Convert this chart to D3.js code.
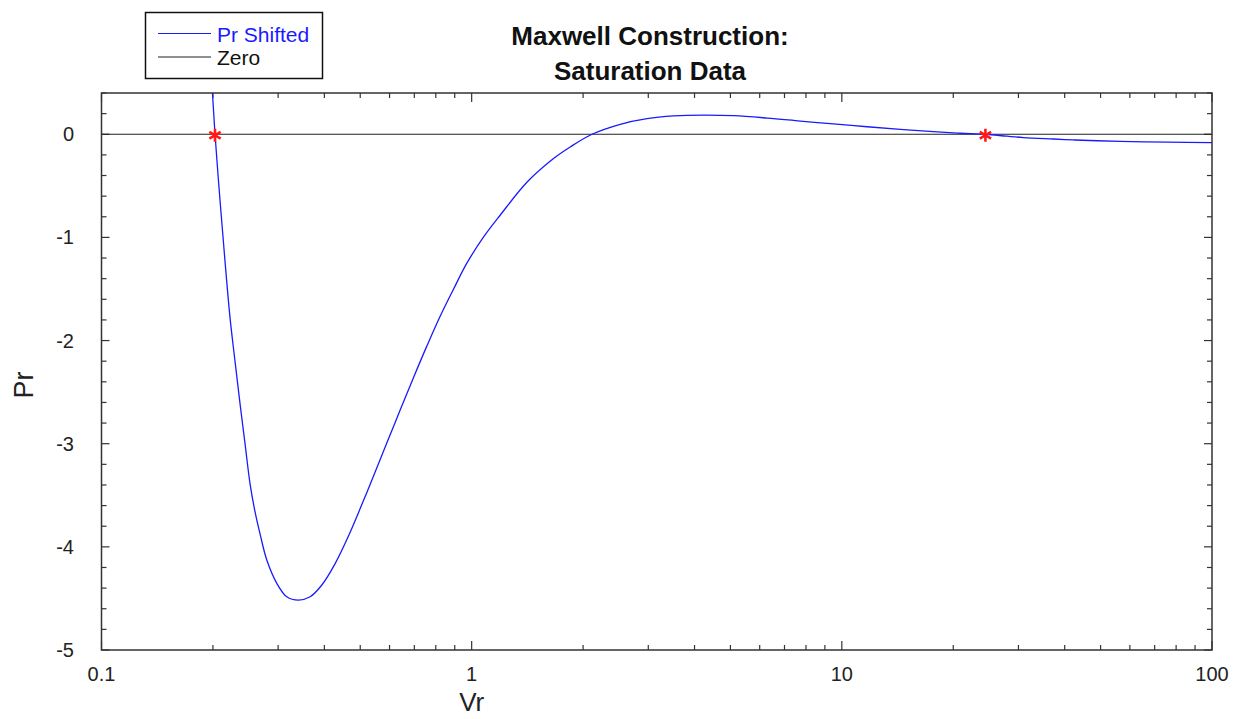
<!DOCTYPE html>
<html>
<head>
<meta charset="utf-8">
<script src="https://cdn.jsdelivr.net/npm/d3@7"></script>
<style>
  body { margin: 0; background: #fff; }
  text { font-family: "Liberation Sans", Arial, sans-serif; }
</style>
</head>
<body>
<div id="chart"></div>
<script>
// values
const vr = [0.1983, 0.1995, 0.2026, 0.2090, 0.2157, 0.2225, 0.2296, 0.2368, 0.2443, 0.2520,
  0.2600, 0.2682, 0.2796, 0.2976, 0.3166, 0.3402, 0.3661, 0.3937, 0.4277, 0.4647,
  0.5050, 0.5486, 0.5898, 0.6409, 0.6962, 0.7566, 0.8220, 0.8931, 0.9706, 1.076,
  1.194, 1.410, 1.664, 1.846, 2.113, 2.520, 2.976, 3.512, 4.231, 5.100,
  6.281, 7.725, 9.485, 11.70, 14.39, 17.67, 20.91, 24.43, 27.96, 30.95,
  37.28, 42.25, 49.04, 60.98, 75.81, 100]
const prShifted = [0.523, 0.388, 0.0, -0.640, -1.240, -1.783, -2.209, -2.616, -3.004, -3.391,
  -3.663, -3.876, -4.128, -4.354, -4.484, -4.516, -4.484, -4.370, -4.162, -3.895,
  -3.590, -3.275, -2.994, -2.674, -2.360, -2.054, -1.764, -1.502, -1.250, -0.998,
  -0.785, -0.465, -0.235, -0.123, 0.0, 0.097, 0.152, 0.178, 0.186, 0.180,
  0.157, 0.128, 0.100, 0.073, 0.048, 0.025, 0.010, 0.0, -0.019, -0.032,
  -0.046, -0.055, -0.063, -0.071, -0.077, -0.081]
const zeroVr = [0.1, 100]
const zeroPr = [0, 0]
const starVr = [0.2026, 24.43]
const starPr = [0, 0]

const xTickValues = [0.1, 1, 10, 100]
const xTickLabels = ["0.1", "1", "10", "100"]
const yTickValues = [0, -1, -2, -3, -4, -5]
const yTickLabels = ["0", "-1", "-2", "-3", "-4", "-5"]

let dimensions = {
    width: 1245,
    height: 719,
    margin: {
        top: 93,
        right: 33,
        bottom: 69,
        left: 101.5,
    },
}
dimensions.boundedWidth = dimensions.width - dimensions.margin.left - dimensions.margin.right
dimensions.boundedHeight = dimensions.height - dimensions.margin.top - dimensions.margin.bottom

const svg = d3.select("#chart").append("svg")
    .attr("width", dimensions.width)
    .attr("height", dimensions.height)

const bounds = svg.append("g")
    .attr("transform", `translate(${dimensions.margin.left},${dimensions.margin.top})`)

let x = d3.scaleLog()
    .domain([0.1, 100])
    .range([0, dimensions.boundedWidth])

let y = d3.scaleLinear()
    .domain([-5, 0.4])
    .range([dimensions.boundedHeight, 0])

svg.append("defs").append("clipPath").attr("id", "clip")
    .append("rect")
    .attr("width", dimensions.boundedWidth)
    .attr("height", dimensions.boundedHeight)

// minor / major ticks
const minorX = []
for (let p = -1; p < 2; p++) {
    for (let k = 2; k <= 9; k++) minorX.push(k * Math.pow(10, p))
}
const minorY = d3.range(-5, 0.41, 0.2).map(v => Math.round(v * 10) / 10)
    .filter(v => !Number.isInteger(v))

const tickColor = "#333"

function drawTicks(g, vals, len, orient) {
    g.selectAll(null).data(vals).enter().append("line")
        .attr("stroke", tickColor)
        .attr("stroke-width", 1.2)
        .attr("x1", d => orient == "bottom" || orient == "top" ? x(d) : (orient == "left" ? 0 : dimensions.boundedWidth))
        .attr("x2", d => orient == "bottom" || orient == "top" ? x(d) : (orient == "left" ? len : dimensions.boundedWidth - len))
        .attr("y1", d => orient == "left" || orient == "right" ? y(d) : (orient == "bottom" ? dimensions.boundedHeight : 0))
        .attr("y2", d => orient == "left" || orient == "right" ? y(d) : (orient == "bottom" ? dimensions.boundedHeight - len : len))
}

const ticks = bounds.append("g")
drawTicks(ticks, minorX, 5, "bottom")
drawTicks(ticks, xTickValues, 9, "bottom")
drawTicks(ticks, minorX, 5, "top")
drawTicks(ticks, xTickValues, 9, "top")
drawTicks(ticks, minorY, 5, "left")
drawTicks(ticks, yTickValues, 8, "left")
drawTicks(ticks, minorY, 5, "right")
drawTicks(ticks, yTickValues, 8, "right")

// tick labels
bounds.append("g").selectAll("text")
    .data(xTickValues)
    .enter().append("text")
    .attr("x", d => x(d))
    .attr("y", dimensions.boundedHeight + 31)
    .attr("text-anchor", "middle")
    .style("font-size", "20px")
    .attr("fill", "#222")
    .text((d, i) => xTickLabels[i])

bounds.append("g").selectAll("text")
    .data(yTickValues)
    .enter().append("text")
    .attr("x", -27.5)
    .attr("y", d => y(d) + 7)
    .attr("text-anchor", "end")
    .style("font-size", "20px")
    .attr("fill", "#222")
    .text((d, i) => yTickLabels[i])

// zero line
const line = d3.line()
    .x(d => x(d[0]))
    .y(d => y(d[1]))

bounds.append("path")
    .datum(d3.zip(zeroVr, zeroPr))
    .attr("d", line)
    .attr("fill", "none")
    .attr("stroke", "#222")
    .attr("stroke-width", 1.2)

// Pr shifted curve
bounds.append("path")
    .datum(d3.zip(vr, prShifted))
    .attr("clip-path", "url(#clip)")
    .attr("d", line.curve(d3.curveCatmullRom.alpha(0.5)))
    .attr("fill", "none")
    .attr("stroke", "#1a1aff")
    .attr("stroke-width", 1.3)

// frame
bounds.append("rect")
    .attr("width", dimensions.boundedWidth)
    .attr("height", dimensions.boundedHeight)
    .attr("fill", "none")
    .attr("stroke", "#333")
    .attr("stroke-width", 1.5)

// saturation points
bounds.selectAll(".star")
    .data(d3.zip(starVr, starPr))
    .enter().append("path")
    .attr("class", "star")
    .attr("transform", d => `translate(${x(d[0])},${y(d[1]) + 1})`)
    .attr("d", d3.symbol(d3.symbolAsterisk, 120))
    .attr("fill", "none")
    .attr("stroke", "#ff1a1a")
    .attr("stroke-width", 2.6)

// axis titles
svg.append("text")
    .attr("x", dimensions.margin.left + x(1))
    .attr("y", 711)
    .attr("text-anchor", "middle")
    .style("font-size", "26px")
    .attr("fill", "#222")
    .text("Vr")

svg.append("text")
    .attr("transform", "translate(33,385) rotate(-90)")
    .attr("text-anchor", "middle")
    .style("font-size", "27px")
    .attr("fill", "#222")
    .text("Pr")

// title
const title = svg.append("text")
    .attr("text-anchor", "middle")
    .style("font-size", "26px")
    .style("font-weight", "bold")
    .attr("fill", "#111")
title.append("tspan").attr("x", 650).attr("y", 45).text("Maxwell Construction:")
title.append("tspan").attr("x", 650).attr("y", 80).text("Saturation Data")

// legend
const legend = svg.append("g")
legend.append("rect")
    .attr("x", 145.5).attr("y", 12.5)
    .attr("width", 177).attr("height", 66)
    .attr("fill", "#fff")
    .attr("stroke", "#111")
    .attr("stroke-width", 1.5)

const legendItems = [["Pr Shifted", "#1a1aff", "#1a1aff"], ["Zero", "#222", "#111"]]
legendItems.forEach(function(item, i) {
    legend.append("line")
        .attr("x1", 158).attr("x2", 211)
        .attr("y1", 33.5 + i * 23.5).attr("y2", 33.5 + i * 23.5)
        .attr("stroke", item[1])
        .attr("stroke-width", 1.2)
    legend.append("text")
        .attr("x", 217)
        .attr("y", 41.5 + i * 23.5)
        .style("font-size", "21px")
        .attr("fill", item[2])
        .text(item[0])
})
</script>
</body>
</html>
